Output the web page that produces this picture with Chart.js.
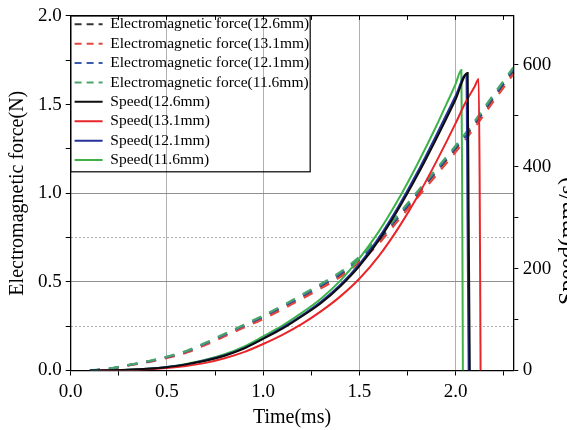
<!DOCTYPE html>
<html>
<head>
<meta charset="utf-8">
<script src="https://cdn.jsdelivr.net/npm/chart.js@4.4.1/dist/chart.umd.min.js"></script>
<style>
    html, body { margin: 0; padding: 0; background: #fff; overflow: hidden; }
    #wrap { position: relative; width: 567px; height: 430px; overflow: hidden; }
    canvas { position: absolute; left: 0; top: 0; }
</style>
</head>
<body>
<div id="wrap"><canvas id="myChart" width="580" height="430"></canvas></div>
<script>
// electromagnetic force (N), common time axis (ms)
const forceTime = [0.1, 0.2, 0.3, 0.4, 0.5, 0.6, 0.7, 0.8, 0.9, 1.0, 1.1, 1.2, 1.3, 1.4, 1.5, 1.6, 1.7, 1.8, 1.9, 2.0, 2.1, 2.2, 2.3];
const force126 = [0, 0.010, 0.030, 0.050, 0.075, 0.105, 0.150, 0.200, 0.250, 0.300, 0.355, 0.415, 0.475, 0.540, 0.625, 0.730, 0.860, 0.990, 1.120, 1.250, 1.390, 1.540, 1.690];
const force131 = [0, 0.009, 0.028, 0.047, 0.071, 0.100, 0.144, 0.193, 0.242, 0.291, 0.345, 0.404, 0.463, 0.527, 0.611, 0.715, 0.844, 0.973, 1.102, 1.232, 1.372, 1.522, 1.672];
const force121 = [0, 0.010, 0.030, 0.050, 0.076, 0.107, 0.153, 0.203, 0.254, 0.305, 0.360, 0.420, 0.481, 0.547, 0.633, 0.738, 0.868, 0.998, 1.128, 1.259, 1.399, 1.550, 1.700];
const force116 = [0, 0.011, 0.031, 0.052, 0.078, 0.110, 0.156, 0.207, 0.258, 0.310, 0.366, 0.427, 0.488, 0.555, 0.641, 0.747, 0.877, 1.007, 1.137, 1.268, 1.408, 1.560, 1.710];

// speed (mm/s)
const speedTime126 = [0.1, 0.2, 0.3, 0.4, 0.5, 0.6, 0.7, 0.8, 0.9, 1.0, 1.1, 1.2, 1.3, 1.4, 1.5, 1.6, 1.7, 1.8, 1.9, 2.0, 2.063, 2.068, 2.074];
const speed126 = [0, 0.4, 1.3, 3.2, 6.5, 12, 19, 29, 43, 62, 82, 106, 132, 165, 205, 255, 315, 382, 455, 532, 584, 300, 0];
const speedTime131 = [0.15, 0.2, 0.3, 0.4, 0.5, 0.6, 0.7, 0.8, 0.9, 1.0, 1.1, 1.2, 1.3, 1.4, 1.5, 1.6, 1.7, 1.8, 1.9, 2.0, 2.05, 2.1, 2.12, 2.125, 2.13];
const speed131 = [0, 0.2, 1, 2.5, 5, 9, 15, 24, 36, 52, 70, 91, 116, 145, 180, 224, 278, 340, 410, 485, 525, 558, 572, 380, 0];
const speedTime121 = [0.1, 0.2, 0.3, 0.4, 0.5, 0.6, 0.7, 0.8, 0.9, 1.0, 1.1, 1.2, 1.3, 1.4, 1.5, 1.6, 1.7, 1.8, 1.9, 2.0, 2.057, 2.062, 2.068];
const speed121 = [0, 0.4, 1.4, 3.3, 6.7, 12, 20, 30, 44, 63, 84, 108, 135, 168, 209, 260, 320, 388, 462, 539, 582, 300, 0];
const speedTime116 = [0.1, 0.2, 0.3, 0.4, 0.5, 0.6, 0.7, 0.8, 0.9, 1.0, 1.1, 1.2, 1.3, 1.4, 1.5, 1.6, 1.7, 1.8, 1.9, 1.95, 2.0, 2.03, 2.034, 2.038];
const speed116 = [0, 0.5, 1.5, 3.5, 7, 13, 21, 32, 47, 67, 88, 113, 141, 176, 220, 272, 334, 404, 480, 521, 562, 590, 380, 0];

const forceLabels = ['Electromagnetic force(12.6mm)', 'Electromagnetic force(13.1mm)', 'Electromagnetic force(12.1mm)', 'Electromagnetic force(11.6mm)'];
const speedLabels = ['Speed(12.6mm)', 'Speed(13.1mm)', 'Speed(12.1mm)', 'Speed(11.6mm)'];
const timeTicks = [0, 0.5, 1.0, 1.5, 2.0];
const forceTicks = [0, 0.5, 1.0, 1.5, 2.0];
const speedTicks = [0, 200, 400, 600];
const speedTickMarks = [0, 100, 200, 300, 400, 500, 600];
const rightTitle = 'Speed(mm/s)';

Chart.defaults.font.family = "'Liberation Serif', 'Times New Roman', serif";
Chart.defaults.color = '#000';

function pts(ts, vs) {
    return ts.map((t, i) => ({ x: t, y: vs[i] }));
}

function hasTick(list, v) {
    return list.some(t => Math.abs(t - v) < 1e-6);
}

const dashColors = ['#333333', '#e2473f', '#3b5bb0', '#48a66a'];
const lineColors = ['#0d0d0d', '#e8262a', '#25329b', '#3db34a'];

function forceSet(i, values) {
    return {
        label: forceLabels[i],
        data: pts(forceTime, values),
        yAxisID: 'y',
        order: 4 - i,   // black dashes underneath the coloured ones
        borderColor: dashColors[i],
        borderDash: [10, 9],
        borderWidth: 2.2,
        pointRadius: 0,
        cubicInterpolationMode: 'monotone'
    };
}

function speedSet(i, times, values) {
    return {
        label: speedLabels[i],
        data: pts(times, values),
        yAxisID: 'y2',
        order: 0,
        borderColor: lineColors[i],
        borderWidth: 2,
        pointRadius: 0,
        cubicInterpolationMode: 'monotone'
    };
}

// legend frame + right axis title
const framePlugin = {
    id: 'frame',
    afterDraw(chart) {
        const ctx = chart.ctx;
        const area = chart.chartArea;
        const legend = chart.legend;
        if (legend && legend.legendHitBoxes && legend.legendHitBoxes.length) {
            let right = 0, bottom = 0;
            legend.legendHitBoxes.forEach(b => {
                right = Math.max(right, b.left + b.width);
                bottom = Math.max(bottom, b.top + b.height);
            });
            ctx.save();
            ctx.strokeStyle = '#000';
            ctx.lineWidth = 1.2;
            ctx.strokeRect(area.left, area.top, right + 1 - area.left, bottom + 4 - area.top);
            ctx.restore();
        }
        ctx.save();
        ctx.translate(574, 241);
        ctx.rotate(-Math.PI / 2);
        ctx.font = "24px 'Liberation Serif'";
        ctx.fillStyle = '#000';
        ctx.textAlign = 'center';
        ctx.textBaseline = 'alphabetic';
        ctx.fillText(rightTitle, 0, 0);
        ctx.restore();
    }
};

const ctx = document.getElementById('myChart').getContext('2d');

const myChart = new Chart(ctx, {
    type: 'line',
    data: {
        datasets: [
            forceSet(0, force126),
            forceSet(1, force131),
            forceSet(2, force121),
            forceSet(3, force116),
            speedSet(0, speedTime126, speed126),
            speedSet(1, speedTime131, speed131),
            speedSet(2, speedTime121, speed121),
            speedSet(3, speedTime116, speed116)
        ]
    },
    options: {
        responsive: false,
        animation: false,
        layout: { padding: 0 },
        plugins: {
            tooltip: { enabled: false },
            legend: {
                position: 'chartArea',
                align: 'start',
                // empty title only pushes the entries below the top frame line
                title: { display: true, text: '', font: { size: 10 }, padding: { top: 0.6, bottom: 0 } },
                labels: {
                    font: { size: 15.5 },
                    color: '#000',
                    usePointStyle: true,
                    pointStyle: 'line',
                    pointStyleWidth: 28,
                    padding: 3.9,
                    sort: (a, b) => a.datasetIndex - b.datasetIndex,
                    generateLabels: function (chart) {
                        const items = Chart.defaults.plugins.legend.labels.generateLabels(chart);
                        items.forEach(function (it) {
                            const ds = chart.data.datasets[it.datasetIndex];
                            it.strokeStyle = ds.borderColor;
                            it.lineWidth = 2;
                            it.lineDash = ds.borderDash ? [7, 5] : [];
                        });
                        return items;
                    }
                }
            }
        },
        scales: {
            x: {
                type: 'linear',
                position: 'bottom',
                min: 0,
                max: 2.3,
                afterFit: function (s) { s.height = 59.5; },
                ticks: {
                    stepSize: 0.25,
                    includeBounds: false,
                    autoSkip: false,
                    maxRotation: 0,
                    padding: 5,
                    font: { size: 19 },
                    callback: v => hasTick(timeTicks, v) ? v.toFixed(1) : ''
                },
                grid: {
                    color: c => (c.tick && c.tick.value > 0 && hasTick(timeTicks, c.tick.value)) ? '#b0b0b0' : 'rgba(0,0,0,0)',
                    tickColor: '#000',
                    tickLength: 5
                },
                border: { color: '#000', width: 1.3 },
                title: { display: true, text: 'Time(ms)', font: { size: 20 }, padding: { top: 0, bottom: 0 } }
            },
            xTop: {
                type: 'linear',
                position: 'top',
                min: 0,
                max: 2.3,
                afterFit: function (s) { s.height = 14; },
                ticks: { display: false, stepSize: 0.25, includeBounds: false },
                grid: { drawOnChartArea: false, tickLength: -4, tickColor: '#000' },
                border: { color: '#000', width: 1.3 }
            },
            y: {
                type: 'linear',
                position: 'left',
                min: 0,
                max: 2.0,
                afterFit: function (s) { s.width = 70.7; },
                ticks: {
                    stepSize: 0.25,
                    includeBounds: false,
                    autoSkip: false,
                    padding: 4,
                    font: { size: 19 },
                    callback: v => hasTick(forceTicks, v) ? v.toFixed(1) : ''
                },
                grid: {
                    color: c => (c.tick && (Math.abs(c.tick.value - 0.5) < 1e-6 || Math.abs(c.tick.value - 1) < 1e-6)) ? '#8f8f8f' : 'rgba(0,0,0,0)',
                    tickColor: '#000',
                    tickLength: 5
                },
                border: { color: '#000', width: 1.3 },
                title: { display: true, text: 'Electromagnetic force(N)', font: { size: 20 }, padding: { top: 6, bottom: 0 } }
            },
            yDot: {
                type: 'linear',
                position: 'left',
                min: 0,
                max: 2.0,
                afterFit: function (s) { s.width = 0; },
                ticks: { display: false, stepSize: 0.25, includeBounds: false },
                grid: {
                    drawTicks: false,
                    color: c => (c.tick && (Math.abs(c.tick.value - 0.25) < 1e-6 || Math.abs(c.tick.value - 0.75) < 1e-6)) ? '#b0b0b0' : 'rgba(0,0,0,0)'
                },
                border: { display: false, dash: [2, 2] }
            },
            y2: {
                type: 'linear',
                position: 'right',
                min: 0,
                max: 696,
                afterFit: function (s) { s.width = 66.7; },
                afterBuildTicks: function (s) { s.ticks = speedTickMarks.map(v => ({ value: v })); },
                ticks: {
                    autoSkip: false,
                    padding: 4.5,
                    font: { size: 19 },
                    callback: v => hasTick(speedTicks, v) ? String(v) : ''
                },
                grid: { drawOnChartArea: false, tickColor: '#000', tickLength: 5 },
                border: { color: '#000', width: 1.3 }
            }
        }
    },
    plugins: [framePlugin]
});
</script>
</body>
</html>
